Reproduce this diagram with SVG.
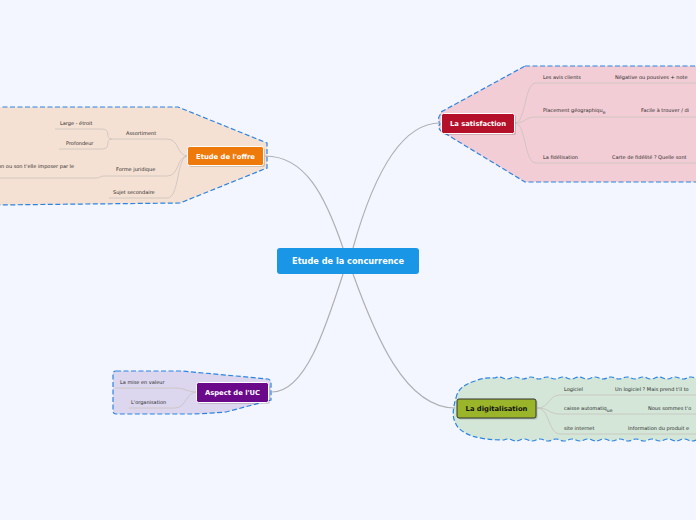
<svg xmlns="http://www.w3.org/2000/svg" width="696" height="520" viewBox="0 0 696 520">
<style>
.bg{fill:#f3f6fe}
.region{stroke:#2b84e4;stroke-width:1.2;stroke-dasharray:5 2.5}
.conn{fill:none;stroke:#b0b0b4;stroke-width:1.2}
.br{fill:none;stroke:#c9c2bd;stroke-width:0.8}
.t{font-family:"DejaVu Sans",sans-serif;font-size:5px;fill:#2a2a2a}
.nt{font-family:"DejaVu Sans",sans-serif;font-weight:bold;font-size:6.8px;fill:#fff;text-anchor:middle}
.node{stroke:#fff;stroke-width:1}
.sh{fill:#000;opacity:0.15}
</style>
<rect class="bg" x="0" y="0" width="696" height="520"/>

<g id="regions">
  <path class="region" fill="#f5e1d3" d="M-5,107 L178,107 L267,143 L267,168 L180,203 L-5,205 Z"/>
  <path class="region" fill="#f2cdd5" d="M525,66 L700,66 L700,182 L525,182 L441,131 Q437,127 440,124 Q437,119 440,115 L441,112 Z"/>
  <path class="region" fill="#d3e6d8" d="M456,398 Q458,386 475,381 Q484,377 495,378 q4,-2 8,0 t8,0 t8,0 t8,0 t8,0 t8,0 t8,0 t8,0 t8,0 t8,0 t8,0 t8,0 t8,0 t8,0 t8,0 t8,0 t8,0 t8,0 t8,0 t8,0 t8,0 t8,0 t8,0 t8,0 t8,0 t8,0 L700,378 L700,440 L696,440 q-4,2 -8,0 t-8,0 t-8,0 t-8,0 t-8,0 t-8,0 t-8,0 t-8,0 t-8,0 t-8,0 t-8,0 t-8,0 t-8,0 t-8,0 t-8,0 t-8,0 t-8,0 t-8,0 t-8,0 t-8,0 t-8,0 t-8,0 t-8,0 t-8,0 Q485,440 472,436 Q458,431 455,422 Q451,414 456,398 Z"/>
  <path class="region" fill="#dcd6ee" d="M116,371 L182,371 L268,379 Q271,380 271,383 L271,400 L226,412 Q200,414 190,414 L116,414 Q113,414 113,411 L113,374 Q113,371 116,371 Z"/>
</g>

<g id="connectors">
  <path class="conn" d="M343,248 C325,195 305,156 265,156"/>
  <path class="conn" d="M353,248 C372,180 400,123 440,123"/>
  <path class="conn" d="M343,274 C325,330 305,392 272,392"/>
  <path class="conn" d="M353,274 C375,335 405,408 455,408"/>
  <path class="br" d="M188,156 C176,156 180,139 167,139 L112,139"/>
  <path class="br" d="M112,139 C104,139 112,129 102,129 L55,129"/>
  <path class="br" d="M112,139 C104,139 112,149 102,149 L59,149"/>
  <path class="br" d="M188,156 C176,156 180,176 167,176 L104,176 C100,176 100,178 96,178 L0,178"/>
  <path class="br" d="M188,156 C176,156 180,198 167,198 L109,198"/>
  <path class="br" d="M515,123 C526,123 524,83 536,83 L696,83"/>
  <path class="br" d="M515,123 C526,123 524,117 536,117 L696,117"/>
  <path class="br" d="M515,123 C526,123 524,163 536,163 L696,163"/>
  <path class="br" d="M537,408 C550,408 548,395 560,395 L696,395"/>
  <path class="br" d="M537,408 C550,408 548,414 560,414 L696,414"/>
  <path class="br" d="M537,408 C550,408 548,434 560,434 L696,434"/>
  <path class="br" d="M197,392 C186,392 186,388 175,388 L115,388"/>
  <path class="br" d="M197,392 C186,392 186,408 175,408 L129,408"/>
</g>

<g id="center">
  <rect x="277" y="248" width="142" height="26" rx="3" fill="#1a96e6"/>
  <text class="nt" x="348" y="264" style="font-size:8.2px">Etude de la concurrence</text>
</g>

<g id="offre">
  <rect class="sh" x="189" y="148" width="76" height="19" rx="2"/>
  <rect class="node" x="187.5" y="146.5" width="76" height="19" rx="2" fill="#ef7a0c"/>
  <text class="nt" x="225.5" y="158.5">Etude de l'offre</text>
  <text class="t" x="126" y="135">Assortiment</text>
  <text class="t" x="60" y="125">Large - étroit</text>
  <text class="t" x="66" y="145">Profondeur</text>
  <text class="t" x="116" y="171">Forme juridique</text>
  <text class="t" x="-2" y="168">on ou son t'elle imposer par le</text>
  <text class="t" x="113" y="194">Sujet secondaire</text>
</g>

<g id="satisfaction">
  <rect class="sh" x="443" y="115" width="73" height="20" rx="2"/>
  <rect class="node" x="441.5" y="113.5" width="73" height="20" rx="2" fill="#b5102a"/>
  <text class="nt" x="478" y="126">La satisfaction</text>
  <text class="t" x="543" y="79">Les avis clients</text>
  <text class="t" x="615" y="79">Négative ou pousives + note</text>
  <text class="t" x="543" y="112">Placement géographiqu<tspan dy="1.5" font-size="4.5">e</tspan></text>
  <text class="t" x="641" y="112">Facile à trouver / di</text>
  <text class="t" x="543" y="159">La fidélisation</text>
  <text class="t" x="612" y="159">Carte de fidélité ? Quelle sont</text>
</g>

<g id="digitalisation">
  <rect class="sh" x="458.5" y="400.5" width="79" height="19" rx="2"/>
  <rect x="457" y="399" width="79" height="19" rx="2" fill="#9bb52a" stroke="#333" stroke-width="1"/>
  <text class="nt" x="496.5" y="411" style="fill:#111">La digitalisation</text>
  <text class="t" x="564" y="391">Logiciel</text>
  <text class="t" x="615" y="391">Un logiciel ? Mais prend t'il to</text>
  <text class="t" x="564" y="410">caisse automatiq<tspan dy="1.5" font-size="4.5">ue</tspan></text>
  <text class="t" x="648" y="410">Nous sommes t'o</text>
  <text class="t" x="564" y="430">site internet</text>
  <text class="t" x="628" y="430">Information du produit e</text>
</g>

<g id="aspect">
  <rect class="sh" x="198" y="384" width="72" height="20" rx="2"/>
  <rect class="node" x="196.5" y="382.5" width="72" height="20" rx="2" fill="#6a0a8a"/>
  <text class="nt" x="232.5" y="395">Aspect de l'UC</text>
  <text class="t" x="120" y="384">La mise en valeur</text>
  <text class="t" x="131" y="404">L'organisation</text>
</g>
</svg>
